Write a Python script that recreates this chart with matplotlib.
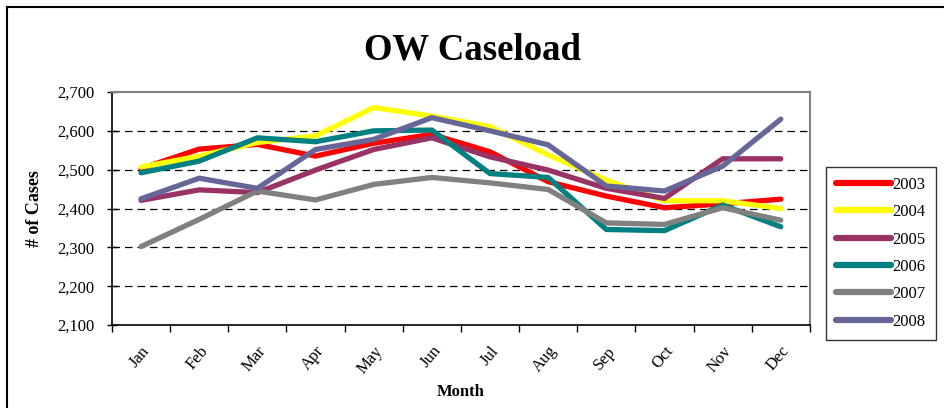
import matplotlib.pyplot as plt
from matplotlib.lines import Line2D
from matplotlib.ticker import FuncFormatter

months = ['Jan', 'Feb', 'Mar', 'Apr', 'May', 'Jun',
          'Jul', 'Aug', 'Sep', 'Oct', 'Nov', 'Dec']
years = ['2003', '2004', '2005', '2006', '2007', '2008']

cases_2003 = [2503, 2553, 2565, 2535, 2568, 2591, 2546, 2469, 2432, 2402, 2412, 2424]
cases_2004 = [2507, 2535, 2570, 2587, 2660, 2638, 2611, 2538, 2473, 2420, 2420, 2400]
cases_2005 = [2421, 2448, 2441, 2499, 2552, 2582, 2533, 2499, 2452, 2426, 2528, 2528]
cases_2006 = [2492, 2522, 2582, 2572, 2600, 2602, 2490, 2480, 2346, 2343, 2409, 2353]
cases_2007 = [2302, 2372, 2445, 2422, 2462, 2480, 2466, 2449, 2363, 2359, 2402, 2370]
cases_2008 = [2425, 2478, 2452, 2552, 2578, 2634, 2600, 2564, 2458, 2445, 2509, 2630]

series = [cases_2003, cases_2004, cases_2005, cases_2006, cases_2007, cases_2008]
colors = ['#FF0000', '#FFFF00', '#993366', '#008080', '#808080', '#666699']

plt.rcParams['font.family'] = ['Liberation Serif', 'DejaVu Serif']

fig = plt.figure(figsize=(9.45, 4.08), dpi=100)
ax = fig.add_axes([0.1185, 0.2034, 0.7385, 0.5711])

x = list(range(len(months)))
lines = []
for vals, col, yr in zip(series, colors, years):
    ln, = ax.plot(x, vals, color=col, lw=3.8, solid_capstyle='round',
                  solid_joinstyle='round', label=yr)
    lines.append(ln)

ax.set_xlim(-0.5, 11.5)
ax.set_ylim(2100, 2700)
ax.set_yticks(range(2100, 2701, 100))
ax.yaxis.set_major_formatter(FuncFormatter(lambda v, p: f'{int(v):,}'))
ax.tick_params(axis='y', direction='inout', length=7, width=1, labelsize=12, pad=9)

ax.set_xticks(x)
ax.set_xticklabels(months, rotation=50, ha='right', va='top', rotation_mode='anchor')
ax.set_xticks([i - 0.5 for i in range(13)], minor=True)
ax.tick_params(axis='x', which='major', length=0, labelsize=12, pad=13)
ax.tick_params(axis='x', which='minor', direction='out', length=5, width=1)

for v in range(2200, 2700, 100):
    ax.axhline(v, color='black', lw=0.9, ls=(0, (6, 4)), zorder=0)

for s in ['left', 'bottom']:
    ax.spines[s].set_color('black')
    ax.spines[s].set_linewidth(1.2)
for s in ['top', 'right']:
    ax.spines[s].set_color('#808080')
    ax.spines[s].set_linewidth(1.5)

ax.set_xlabel('Month', fontsize=12, fontweight='bold', labelpad=5)
ax.set_ylabel('# of Cases', fontsize=13, fontweight='bold', labelpad=10)
fig.text(0.5, 0.877, 'OW Caseload', ha='center', va='center',
         fontsize=26.5, fontweight='bold')

leg = fig.legend(handles=lines, loc='upper left', bbox_to_anchor=(0.874, 0.591),
                 frameon=True, fancybox=False, edgecolor='black', fontsize=12,
                 handlelength=3.3, handletextpad=0.1, labelspacing=0.68,
                 borderpad=0.6, borderaxespad=0)
leg.get_frame().set_linewidth(1.0)
for h in leg.legend_handles:
    h.set_linewidth(4.5)

# outer chart border (top and left visible)
fig.add_artist(Line2D([0.0075, 1.0], [0.984, 0.984], color='black', lw=1.5,
                      transform=fig.transFigure))
fig.add_artist(Line2D([0.0075, 0.0075], [0.0, 0.984], color='black', lw=1.5,
                      transform=fig.transFigure))

fig.savefig('out.png', dpi=100)
